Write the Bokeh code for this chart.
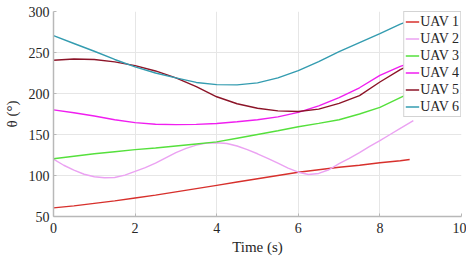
from bokeh.plotting import figure
from bokeh.embed import file_html
from bokeh.resources import INLINE
from bokeh.models import FixedTicker, Legend, LegendItem, Range1d

# ---- data ----
t_main = [0, 0.5, 1, 1.5, 2, 2.5, 3, 3.5, 4, 4.5, 5, 5.5, 6, 6.5, 7, 7.5, 8, 8.5, 8.8]
t_uav1 = [0, 0.5, 1, 1.5, 2, 2.5, 3, 3.5, 4, 4.5, 5, 5.5, 6, 6.5, 7, 7.5, 8, 8.5, 8.73]
t_uav2 = [0, 0.25, 0.5, 0.75, 1, 1.25, 1.5, 1.75, 2, 2.25, 2.5, 2.75, 3, 3.25, 3.5,
          3.75, 4, 4.25, 4.5, 4.75, 5, 5.25, 5.5, 5.75, 6, 6.25, 6.5, 6.75, 7, 7.25,
          7.5, 7.75, 8, 8.25, 8.5, 8.82]

uav1 = [60.5, 63, 66, 69, 72.5, 76, 80, 84, 88, 92, 96, 100, 104, 107, 110, 112.5, 115.5, 118, 119.5]
uav2 = [120, 112.5, 106.5, 101.5, 98.5, 97.2, 97.5, 100.5, 105, 109.5, 115, 121.5, 128, 133, 137,
        139.5, 140, 139, 136, 131.5, 126.5, 121, 115, 109, 104, 101.2, 102.5, 107, 114.5, 121,
        128, 135.5, 142.5, 150, 157.5, 167]
uav3 = [120.4, 123.5, 126.5, 129, 131.5, 133.5, 136, 138.5, 141, 145.5, 150, 154.5, 159.5, 163.5, 168, 175, 183, 195, 202]
uav4 = [180, 176.5, 172.5, 168, 164.5, 162.5, 162, 162.3, 163.5, 165.5, 168, 171.5, 177, 185, 195, 207, 222, 233, 238]
uav5 = [240.5, 242, 241.5, 238.5, 234, 227.5, 219, 208.5, 196, 187.5, 182, 178.8, 178, 181, 188, 197.5, 214, 229, 236]
uav6 = [270.5, 261, 251.5, 241.5, 232.5, 225, 219, 213.5, 210.8, 210.5, 213, 219, 228, 239, 251, 262, 273, 284.5, 290]

labels = ["UAV 1", "UAV 2", "UAV 3", "UAV 4", "UAV 5", "UAV 6"]
colors = ["#d7302c", "#eba2f2", "#55e03c", "#f01ef0", "#8c1428", "#349cb0"]
x_ticks = [0, 2, 4, 6, 8, 10]
y_ticks = [50, 100, 150, 200, 250, 300]

FONT = "Liberation Serif"

p = figure(frame_width=408, frame_height=205, output_backend="svg", toolbar_location=None,
           x_range=Range1d(0, 10), y_range=Range1d(50, 300),
           min_border_left=40, min_border_top=11, min_border_right=5, min_border_bottom=30)
p.background_fill_color = "white"
p.border_fill_color = "white"
p.outline_line_color = None

series = [(t_uav1, uav1), (t_uav2, uav2), (t_main, uav3), (t_main, uav4), (t_main, uav5), (t_main, uav6)]
renderers = []
for (tt, yy), c in zip(series, colors):
    r = p.line(tt, yy, line_color=c, line_width=1.4)
    renderers.append(r)

p.xaxis.ticker = FixedTicker(ticks=x_ticks)
p.yaxis.ticker = FixedTicker(ticks=y_ticks)
for ax in (p.xaxis[0], p.yaxis[0]):
    ax.axis_line_color = "#b8b8b8"
    ax.axis_line_width = 1.5
    ax.major_tick_line_color = "#b8b8b8"
    ax.major_tick_in = 3
    ax.major_tick_out = 0
    ax.minor_tick_in = 0
    ax.minor_tick_out = 0
    ax.major_label_text_font = FONT
    ax.major_label_text_font_size = "14px"
    ax.major_label_text_color = "#262626"
    ax.axis_label_text_font = FONT
    ax.axis_label_text_font_size = "15px"
    ax.axis_label_text_font_style = "normal"
    ax.axis_label_text_color = "#262626"

p.xaxis.axis_label = "Time (s)"
p.yaxis.axis_label = "θ (°)"
p.xaxis.major_label_standoff = 6
p.yaxis.major_label_standoff = 4
p.xaxis.axis_label_standoff = 3
p.yaxis.axis_label_standoff = 6

p.xgrid.grid_line_color = "#e6e6e6"
p.ygrid.grid_line_color = "#e6e6e6"
p.xgrid.grid_line_width = 1
p.ygrid.grid_line_width = 1

legend = Legend(items=[LegendItem(label=l, renderers=[r]) for l, r in zip(labels, renderers)],
                location="top_right")
legend.margin = 0
legend.padding = 1
legend.spacing = 0
legend.label_standoff = 1
legend.glyph_width = 14
legend.glyph_height = 17
legend.label_height = 17
legend.label_text_font = FONT
legend.label_text_font_size = "14px"
legend.label_text_color = "#262626"
legend.border_line_color = "#a8a8a8"
legend.border_line_width = 1
legend.background_fill_alpha = 1
p.add_layout(legend)

open("out.html", "w").write(file_html(p, INLINE))
